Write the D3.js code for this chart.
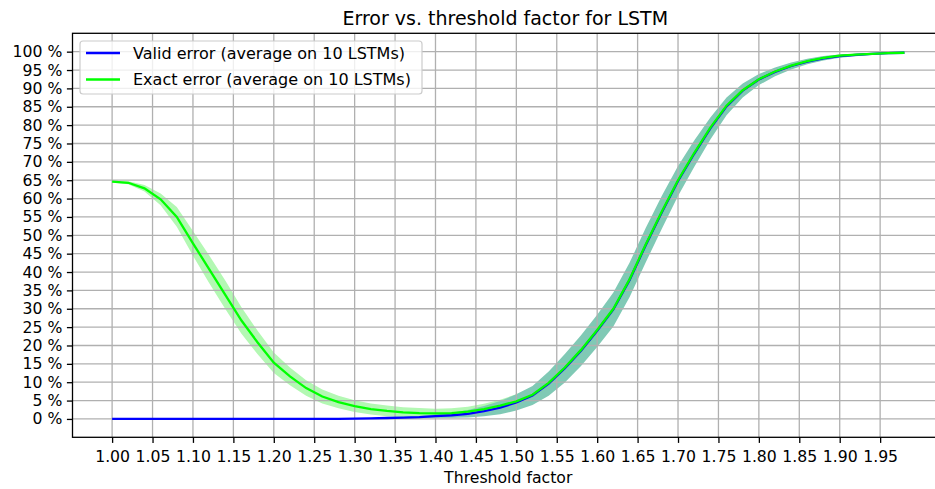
<!DOCTYPE html>
<html>
<head>
<meta charset="utf-8">
<script src="https://cdn.jsdelivr.net/npm/d3@7"></script>
<style>
  body { margin: 0; background: #fff; }
  svg { display: block; }
  text { font-family: "DejaVu Sans", sans-serif; fill: #000; }
</style>
</head>
<body>
<svg id="chart" width="935" height="489"></svg>
<script>
// Threshold factor sampled every 0.02
const thresholds = [
  1.00, 1.02, 1.04, 1.06, 1.08, 1.10, 1.12, 1.14, 1.16, 1.18,
  1.20, 1.22, 1.24, 1.26, 1.28, 1.30, 1.32, 1.34, 1.36, 1.38,
  1.40, 1.42, 1.44, 1.46, 1.48, 1.50, 1.52, 1.54, 1.56, 1.58,
  1.60, 1.62, 1.64, 1.66, 1.68, 1.70, 1.72, 1.74, 1.76, 1.78,
  1.80, 1.82, 1.84, 1.86, 1.88, 1.90, 1.92, 1.94, 1.96, 1.98
];

// Valid error (%), mean over 10 LSTMs, and its standard deviation
const validError = [
  0, 0, 0, 0, 0, 0, 0, 0, 0, 0,
  0, 0, 0, 0, 0, 0.1, 0.15, 0.25, 0.35, 0.5,
  0.75, 1.0, 1.4, 2.1, 3.1, 4.5, 6.4, 9.6, 13.8, 18.6,
  24.0, 29.8, 37.8, 47.3, 56.3, 64.8, 72.2, 79.1, 85.1, 89.4,
  92.4, 94.5, 96.1, 97.3, 98.2, 98.8, 99.1, 99.4, 99.6, 99.7
];
const validStd = [
  0, 0, 0, 0, 0, 0, 0, 0, 0, 0,
  0, 0, 0, 0, 0, 0.05, 0.1, 0.15, 0.2, 0.3,
  0.45, 0.7, 1.0, 1.4, 1.8, 2.2, 2.6, 3.3, 3.9, 4.2,
  4.4, 4.6, 4.7, 4.7, 4.5, 4.1, 3.6, 3.0, 2.4, 1.9,
  1.5, 1.2, 0.95, 0.75, 0.6, 0.45, 0.35, 0.25, 0.15, 0.1
];

// Exact error (%), mean over 10 LSTMs, and its standard deviation
const exactError = [
  64.6, 64.3, 62.8, 59.8, 55.0, 47.8, 40.8, 33.8, 26.8, 20.8,
  15.3, 11.6, 8.4, 6.1, 4.6, 3.5, 2.7, 2.2, 1.8, 1.6,
  1.5, 1.6, 2.0, 2.7, 3.6, 4.8, 6.6, 9.8, 14.0, 18.8,
  24.2, 30.0, 38.0, 47.5, 56.5, 65.0, 72.4, 79.3, 85.3, 89.5,
  92.5, 94.6, 96.2, 97.4, 98.3, 98.9, 99.2, 99.4, 99.6, 99.7
];
const exactStd = [
  0.2, 0.4, 0.9, 1.6, 2.7, 3.4, 3.8, 3.9, 3.6, 3.2,
  2.8, 2.4, 2.1, 1.9, 1.7, 1.6, 1.5, 1.45, 1.4, 1.35,
  1.3, 1.3, 1.35, 1.45, 1.65, 1.9, 2.1, 2.5, 2.9, 3.2,
  3.4, 3.6, 3.7, 3.7, 3.5, 3.2, 2.8, 2.3, 1.8, 1.4,
  1.1, 0.9, 0.7, 0.55, 0.45, 0.35, 0.25, 0.2, 0.1, 0.1
];

const xTicks = [
  1.00, 1.05, 1.10, 1.15, 1.20, 1.25, 1.30, 1.35, 1.40, 1.45,
  1.50, 1.55, 1.60, 1.65, 1.70, 1.75, 1.80, 1.85, 1.90, 1.95
];
const yTicks = [0, 5, 10, 15, 20, 25, 30, 35, 40, 45, 50, 55, 60, 65, 70, 75, 80, 85, 90, 95, 100];

const seriesLabels = [
  "Valid error (average on 10 LSTMs)",
  "Exact error (average on 10 LSTMs)"
];
const titleText = "Error vs. threshold factor for LSTM";
const xLabelText = "Threshold factor";

// ---- layout ----
const plot = { left: 72.5, right: 944, top: 33.3, bottom: 437.3 };

const xMin = d3.min(thresholds), xMax = d3.max(thresholds);
const xPad = (xMax - xMin) * 0.05;
const x = d3.scaleLinear()
  .domain([xMin - xPad, xMax + xPad])
  .range([plot.left, plot.right]);
const y = d3.scaleLinear()
  .domain([-5, 105])
  .range([plot.bottom, plot.top]);

const svg = d3.select("#chart");

const validRows = thresholds.map((t, i) => ({ t, m: validError[i], s: validStd[i] }));
const exactRows = thresholds.map((t, i) => ({ t, m: exactError[i], s: exactStd[i] }));

const band = d3.area()
  .x(d => x(d.t))
  .y0(d => y(d.m - d.s))
  .y1(d => y(d.m + d.s));
const line = d3.line()
  .x(d => x(d.t))
  .y(d => y(d.m));

// spread bands
svg.append("path").datum(exactRows)
  .attr("d", band).attr("fill", "#b3f8b3");
svg.append("path").datum(validRows)
  .attr("d", band).attr("fill", "#80c9b5");

// grid
const grid = svg.append("g").attr("stroke", "#b0b0b0").attr("stroke-width", 1.3);
grid.selectAll("line.v").data(xTicks).join("line")
  .attr("class", "v")
  .attr("x1", d => x(d)).attr("x2", d => x(d))
  .attr("y1", plot.top).attr("y2", plot.bottom);
grid.selectAll("line.h").data(yTicks).join("line")
  .attr("class", "h")
  .attr("x1", plot.left).attr("x2", plot.right)
  .attr("y1", d => y(d)).attr("y2", d => y(d));

// mean curves
svg.append("path").datum(validRows)
  .attr("d", line).attr("fill", "none")
  .attr("stroke", "#0000ff").attr("stroke-width", 2.3);
svg.append("path").datum(exactRows)
  .attr("d", line).attr("fill", "none")
  .attr("stroke", "#00ff00").attr("stroke-width", 2.3);

// axes
const xAxis = d3.axisBottom(x)
  .tickValues(xTicks)
  .tickFormat(d3.format(".2f"))
  .tickSize(5.6).tickSizeOuter(0).tickPadding(7.5);
const yAxis = d3.axisLeft(y)
  .tickValues(yTicks)
  .tickFormat(d => d + " %")
  .tickSize(5.6).tickSizeOuter(0).tickPadding(4.5);

const gx = svg.append("g")
  .attr("transform", `translate(0,${plot.bottom})`)
  .call(xAxis);
const gy = svg.append("g")
  .attr("transform", `translate(${plot.left},0)`)
  .call(yAxis);
[gx, gy].forEach(g => {
  g.select(".domain").remove();
  g.selectAll(".tick line").attr("stroke", "#000").attr("stroke-width", 1.3);
  g.selectAll(".tick text")
    .attr("font-family", "DejaVu Sans")
    .attr("font-size", 15.7)
    .attr("fill", "#000");
});

// spines
svg.append("rect")
  .attr("x", plot.left).attr("y", plot.top)
  .attr("width", plot.right - plot.left)
  .attr("height", plot.bottom - plot.top)
  .attr("fill", "none").attr("stroke", "#000").attr("stroke-width", 1.3);

// title and axis label
svg.append("text")
  .attr("x", (plot.left + plot.right) / 2 - 3).attr("y", 24.5)
  .attr("text-anchor", "middle").attr("font-size", 19)
  .text(titleText);
svg.append("text")
  .attr("x", (plot.left + plot.right) / 2).attr("y", 483)
  .attr("text-anchor", "middle").attr("font-size", 15.7)
  .text(xLabelText);

// legend
const legend = svg.append("g");
legend.append("rect")
  .attr("x", 80).attr("y", 41).attr("width", 342).attr("height", 53)
  .attr("rx", 3).attr("fill", "#fff").attr("fill-opacity", 0.8)
  .attr("stroke", "#cccccc").attr("stroke-width", 1.2);
const legendColors = ["#0000ff", "#00ff00"];
const legendY = [53, 79.5];
seriesLabels.forEach((lbl, i) => {
  legend.append("line")
    .attr("x1", 86).attr("x2", 120)
    .attr("y1", legendY[i]).attr("y2", legendY[i])
    .attr("stroke", legendColors[i]).attr("stroke-width", 2.3);
  legend.append("text")
    .attr("x", 133).attr("y", legendY[i]).attr("dy", "0.36em")
    .attr("font-size", 16)
    .text(lbl);
});
</script>
</body>
</html>
